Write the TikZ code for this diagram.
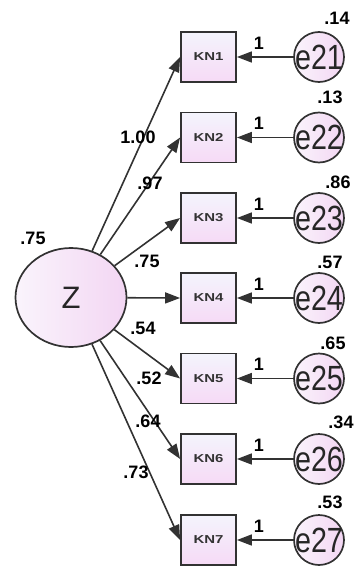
\documentclass[tikz,border=0pt]{standalone}
\usepackage{fontspec}
\setmainfont{Liberation Sans}
\usetikzlibrary{arrows.meta,shapes.geometric}

\definecolor{inkgray}{RGB}{50,50,50}
\definecolor{pinklight}{RGB}{250,244,252}
\definecolor{pinkmid}{RGB}{243,214,243}
\definecolor{boxtop}{RGB}{244,244,252}
\definecolor{boxbot}{RGB}{246,218,246}

\tikzset{
  obsbox/.style={draw=inkgray, line width=1.8pt, rectangle,
    minimum width=55pt, minimum height=50pt, inner sep=0pt,
    top color=boxtop, bottom color=boxbot},
  errcirc/.style={draw=inkgray, line width=1.7pt, circle,
    minimum size=50pt, inner sep=0pt,
    left color=pinklight, right color=pinkmid},
  latent/.style={draw=inkgray, line width=1.7pt, ellipse,
    minimum width=111pt, minimum height=99pt, inner sep=0pt,
    left color=pinklight, right color=pinkmid},
  path/.style={draw=inkgray, line width=1.6pt,
    -{Triangle[length=15pt,width=11pt]}},
  coef/.style={font=\fontsize{18}{18}\selectfont\bfseries, text=black, inner sep=0pt},
  boxlabel/.style={font=\fontsize{11.5}{11.5}\selectfont\bfseries, text=black!80, xscale=1.3, inner sep=0pt},
  errlabel/.style={font=\fontsize{35}{35}\selectfont, text=black!85, xscale=0.82, inner sep=0pt},
}

\begin{document}
\begin{tikzpicture}[x=1pt, y=-1pt]
  \useasboundingbox (0,0) rectangle (354,567);

  % latent factor
  \node[latent] (z) at (71,297.5) {};
  \node[font=\fontsize{31}{31}\selectfont, text=black!85] at (z) {Z};
  \node[coef] at (33,238) {.75};

  % indicators and their error terms
  \foreach \i/\y/\v/\vx/\vy in {1/57/.14/337/18, 2/137.5/.13/330/97, 3/218/.86/338/182,
                               4/298/.57/330/262, 5/378.5/.65/333/343,
                               6/459/.34/341/422, 7/540/.53/330/502} {
    \node[obsbox] (kn\i) at (208.5,\y) {};
    \node[boxlabel] at (kn\i) {KN\i};
    \node[errcirc] (e\i) at (319,\y) {};
    \node[errlabel] at (e\i) {e2\i};
    \draw[path] (e\i) -- (kn\i);
    \node[coef] at (259,\y-14) {1};
    \node[coef] at (\vx,\vy) {\v};
  }

  % factor loadings
  \foreach \i in {1,...,7} {
    \draw[path] (z) -- (kn\i.west);
  }
  \node[coef] at (138,137) {1.00};
  \node[coef] at (150,183) {.97};
  \node[coef] at (147,261) {.75};
  \node[coef] at (143,328) {.54};
  \node[coef] at (149,378) {.52};
  \node[coef] at (148,421) {.64};
  \node[coef] at (136,472) {.73};
\end{tikzpicture}
\end{document}
